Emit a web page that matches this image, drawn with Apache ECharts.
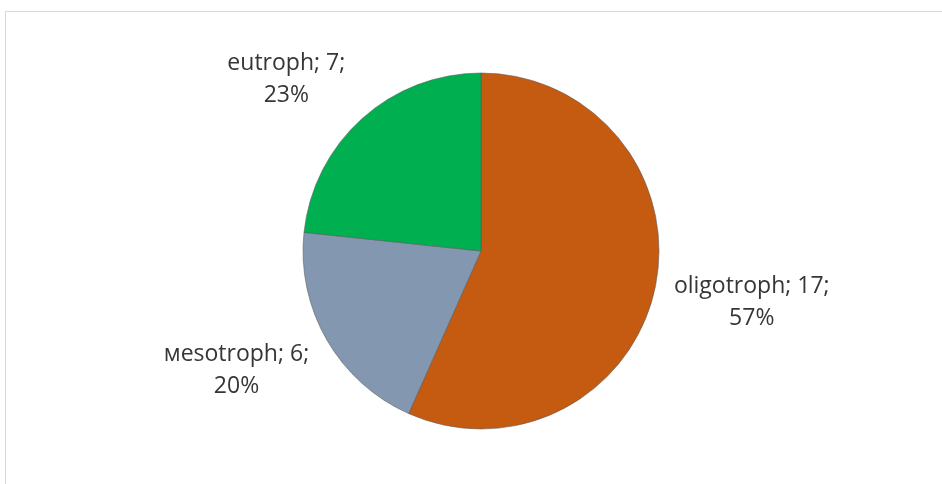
<!DOCTYPE html>
<html>
<head>
<meta charset="utf-8">
<script src="https://cdn.jsdelivr.net/npm/echarts@6/dist/echarts.min.js"></script>
<style>
  html, body { margin: 0; padding: 0; background: #ffffff; overflow: hidden; }
  #frame { position: absolute; left: 5px; top: 11px; width: 1000px; height: 600px; border: 1px solid #d9d9d9; }
  #chart { position: absolute; left: 0; top: 0; width: 942px; height: 484px; }
</style>
</head>
<body>
<div id="frame"></div>
<div id="chart"></div>
<script>
// categories and values
const categories = ["oligotroph", "мesotroph", "eutroph"];
const counts = [17, 6, 7];
const sliceColors = ["#c55a11", "#8497b0", "#00b050"];

// small nudges so labels sit where the original puts them
const labelShift = [[4, 12], [-4, 25], [-5, -32]];

const chart = echarts.init(document.getElementById("chart"));

const option = {
  backgroundColor: "transparent",
  animation: false,
  series: [
    {
      type: "pie",
      center: [481, 251],
      radius: 178,
      startAngle: 90,
      clockwise: true,
      percentPrecision: 0,
      avoidLabelOverlap: false,
      itemStyle: {
        borderColor: "rgba(90,90,90,0.55)",
        borderWidth: 1
      },
      label: {
        show: true,
        position: "outside",
        distanceToLabelLine: 5,
        formatter: (p) => "{t|" + p.name + "; " + p.value + ";}\n{t|" + p.percent + "%}",
        rich: {
          t: {
            align: "center",
            fontFamily: "Open Sans",
            fontSize: 23,
            lineHeight: 32,
            color: "#363636"
          }
        }
      },
      labelLine: { show: false, length: 10, length2: 0 },
      labelLayout: (params) => ({
        dx: labelShift[params.dataIndex][0],
        dy: labelShift[params.dataIndex][1]
      }),
      emphasis: { disabled: true },
      data: categories.map((name, i) => ({
        name: name,
        value: counts[i],
        itemStyle: { color: sliceColors[i] }
      }))
    }
  ]
};

chart.setOption(option);
</script>
</body>
</html>
